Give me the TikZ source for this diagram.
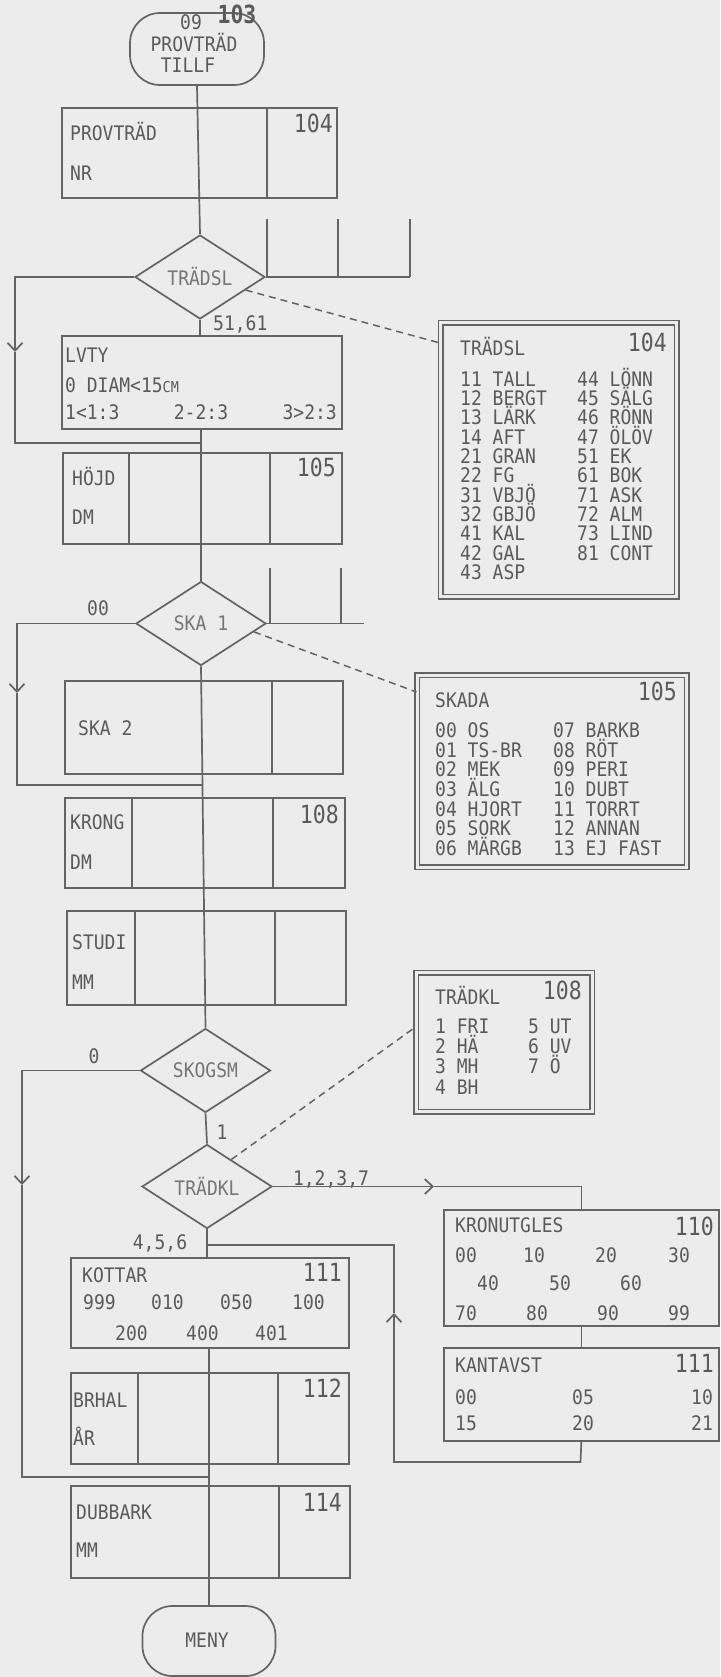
\documentclass[tikz,border=0pt]{standalone}
\usepackage{fontspec}
\usetikzlibrary{shapes.geometric,arrows.meta,calc}
\newfontfamily\monofam[FakeStretch=0.9]{DejaVu Sans Mono}
\newfontfamily\numfam[FakeStretch=0.86]{DejaVu Sans Mono}
\newcommand\txtfont{\monofam\fontsize{20pt}{20pt}\selectfont}
\newcommand\numfont{\numfam\fontsize{25pt}{25pt}\selectfont}
\definecolor{bg}{RGB}{236,236,236}
\definecolor{lc}{RGB}{100,100,100}
\definecolor{tc}{RGB}{90,90,90}
\definecolor{dc}{RGB}{118,118,118}
\tikzset{
  ln/.style={draw=lc, line width=1.7pt},
  box/.style={rectangle, draw=lc, line width=1.7pt, inner sep=0pt, anchor=north west},
  dia/.style={diamond, draw=lc, line width=1.7pt, minimum width=130pt, minimum height=84pt, inner sep=0pt, text=dc, font=\txtfont},
  term/.style={rectangle, rounded corners=30pt, draw=lc, line width=1.7pt, inner sep=0pt},
  lst/.style={rectangle, draw=lc, double=bg, double distance=3.2pt, line width=1.3pt, inner sep=0pt, anchor=north west},
  tl/.style={text=tc, font=\txtfont, inner sep=0pt, anchor=base west},
  tm/.style={text=tc, font=\txtfont, inner sep=0pt, anchor=base},
  tr/.style={text=tc, font=\txtfont, inner sep=0pt, anchor=base east},
  nb/.style={text=tc, font=\numfont, inner sep=0pt, anchor=base east},
  dsh/.style={draw=lc, line width=1.5pt, dash pattern=on 7pt off 5pt},
  arw/.style={-{Straight Barb[length=8pt,width=15pt]}},
}
\begin{document}
\begin{tikzpicture}[x=1pt,y=-1pt]
\fill[bg] (0,0) rectangle (720,1677);
\useasboundingbox (0,0) rectangle (720,1677);

% ---------- start terminal
\node[term, minimum width=134pt, minimum height=72pt] (t0) at (197,49) {};
\node[tm] (t0a) at (191,30) {09};
\node[tm] (t0b) at (194,52) {PROVTRÄD};
\node[tm] (t0c) at (188,73) {TILLF};
\node[text=tc, font=\numfont\bfseries, inner sep=0pt, anchor=base] (n103) at (237,24) {103};

% ---------- PROVTRAD box
\node[box, minimum width=275pt, minimum height=90pt] (b1) at (61,107) {};
\draw[ln] (267,107) -- (267,197);
\node[tl] (b1a) at (70,140.5) {PROVTRÄD};
\node[tl] (b1b) at (70,181) {NR};
\node[nb] (b1n) at (333,133) {104};

% ---------- TRADSL decision
\node[dia] (d1) at (200,277) {TRÄDSL};
\coordinate (s1) at (410,277);
\draw[ln] (d1.east) -- (s1);
\draw[ln] (267,219) -- (267,277);
\draw[ln] (338,219) -- (338,277);
\draw[ln] (410,219) -- (s1);
\node[tl] (lab1) at (213,330.5) {51,61};

% ---------- LVTY box
\node[box, minimum width=280pt, minimum height=93pt] (b2) at (61,335) {};
\node[tl] (b2a) at (65,362.5) {LVTY};
\node[tl] (b2b) at (65,392.5) {0 DIAM<15{\fontsize{15pt}{15pt}\selectfont CM}};
\node[tl] (b2c) at (65,419.5) {1<1:3};
\node[tm] (b2d) at (201,419.5) {2-2:3};
\node[tr] (b2e) at (337,419.5) {3>2:3};

% ---------- HOJD box
\node[box, minimum width=279pt, minimum height=91pt] (b3) at (62,452) {};
\draw[ln] (129,452) -- (129,543);
\draw[ln] (270,452) -- (270,543);
\node[tl] (b3a) at (72,485.5) {HÖJD};
\node[tl] (b3b) at (72,524.5) {DM};
\node[nb] (b3n) at (336,476) {105};

% ---------- SKA 1 decision
\node[dia] (d2) at (201,623.5) {SKA 1};
\coordinate (s2) at (364,623.5);
\draw[ln] (d2.east) -- (s2);
\draw[ln] (270,568) -- (270,623.5);
\draw[ln] (341,568) -- (341,623.5);
\node[tm] (lab2) at (98,615.5) {00};

% ---------- SKA 2 box
\node[box, minimum width=278pt, minimum height=93pt] (b4) at (64,680) {};
\draw[ln] (272,680) -- (272,773);
\node[tl] (b4a) at (78,735.5) {SKA 2};

% ---------- KRONG box
\node[box, minimum width=280pt, minimum height=90pt] (b5) at (64,797) {};
\draw[ln] (132,797) -- (132,887);
\draw[ln] (273,797) -- (273,887);
\node[tl] (b5a) at (70,829.5) {KRONG};
\node[tl] (b5b) at (70,869.5) {DM};
\node[nb] (b5n) at (339,823) {108};

% ---------- STUDI box
\node[box, minimum width=279pt, minimum height=94pt] (b6) at (66,910) {};
\draw[ln] (135,910) -- (135,1004);
\draw[ln] (275,910) -- (275,1004);
\node[tl] (b6a) at (72,949.5) {STUDI};
\node[tl] (b6b) at (72,989.5) {MM};

% ---------- SKOGSM decision
\node[dia] (d3) at (205.5,1070.5) {SKOGSM};
\node[tm] (lab3) at (94,1063.5) {0};
\node[tm] (lab4) at (222,1139.5) {1};

% ---------- TRADKL decision
\node[dia] (d4) at (207,1186.5) {TRÄDKL};
\node[tm] (lab5) at (331,1185.5) {1,2,3,7};
\node[tm] (lab6) at (160,1249.5) {4,5,6};

% ---------- KOTTAR box
\node[box, minimum width=278pt, minimum height=90pt] (b7) at (70,1257) {};
\node[tl] (b7a) at (82,1282.5) {KOTTAR};
\node[nb] (b7n) at (342,1281) {111};
\node[tl] (b7b) at (83,1309.5) {999};
\node[tl] (b7c) at (151,1309.5) {010};
\node[tl] (b7d) at (220,1309.5) {050};
\node[tl] (b7e) at (292,1309.5) {100};
\node[tl] (b7f) at (115,1340.5) {200};
\node[tl] (b7g) at (186,1340.5) {400};
\node[tl] (b7h) at (255,1340.5) {401};

% ---------- BRHAL box
\node[box, minimum width=278pt, minimum height=91pt] (b8) at (70,1372) {};
\draw[ln] (138,1372) -- (138,1463);
\draw[ln] (278,1372) -- (278,1463);
\node[tl] (b8a) at (73,1407.5) {BRHAL};
\node[tl] (b8b) at (73,1445.5) {ÅR};
\node[nb] (b8n) at (342,1397) {112};

% ---------- DUBBARK box
\node[box, minimum width=279pt, minimum height=92pt] (b9) at (70,1485) {};
\draw[ln] (279,1485) -- (279,1577);
\node[tl] (b9a) at (76,1519.5) {DUBBARK};
\node[tl] (b9b) at (76,1557.5) {MM};
\node[nb] (b9n) at (342,1511) {114};

% ---------- MENY terminal
\node[term, minimum width=133pt, minimum height=70pt] (t1) at (209,1641) {};
\node[tm] (t1a) at (207,1647.5) {MENY};

% ---------- KRONUTGLES box
\node[box, minimum width=275pt, minimum height=116pt] (b10) at (443,1209) {};
\node[tl] (b10a) at (455,1232.5) {KRONUTGLES};
\node[nb] (b10n) at (714,1235) {110};
\node[tl] (k1) at (455,1262.5) {00};
\node[tl] (k2) at (523,1262.5) {10};
\node[tl] (k3) at (595,1262.5) {20};
\node[tl] (k4) at (668,1262.5) {30};
\node[tl] (k5) at (477,1290.5) {40};
\node[tl] (k6) at (549,1290.5) {50};
\node[tl] (k7) at (620,1290.5) {60};
\node[tl] (k8) at (455,1320.5) {70};
\node[tl] (k9) at (526,1320.5) {80};
\node[tl] (k10) at (597,1320.5) {90};
\node[tl] (k11) at (668,1320.5) {99};

% ---------- KANTAVST box
\node[box, minimum width=275pt, minimum height=93pt] (b11) at (443,1347) {};
\node[tl] (b11a) at (455,1372.5) {KANTAVST};
\node[nb] (b11n) at (714,1372) {111};
\node[tl] (m1) at (455,1404.5) {00};
\node[tl] (m2) at (572,1404.5) {05};
\node[tl] (m3) at (691,1404.5) {10};
\node[tl] (m4) at (455,1430.5) {15};
\node[tl] (m5) at (572,1430.5) {20};
\node[tl] (m6) at (691,1430.5) {21};

% ---------- code lists
\node[lst, minimum width=236pt, minimum height=274pt] (L1) at (440,322) {};
\node[tl] (L1t) at (460,355.5) {TRÄDSL};
\node[nb] (L1n) at (667,351) {104};
\foreach \s [count=\i from 0] in {11 TALL,12 BERGT,13 LÄRK,14 AFT,21 GRAN,22 FG,31 VBJÖ,32 GBJÖ,41 KAL,42 GAL,43 ASP}
  \node[tl] (La\i) at (460,386.3+19.3*\i) {\s};
\foreach \s [count=\i from 0] in {44 LÖNN,45 SÄLG,46 RÖNN,47 ÖLÖV,51 EK,61 BOK,71 ASK,72 ALM,73 LIND,81 CONT}
  \node[tl] (Lb\i) at (577,386.3+19.3*\i) {\s};

\node[lst, minimum width=269.5pt, minimum height=192pt] (L2) at (416.5,674.5) {};
\node[tl] (L2t) at (435,707.5) {SKADA};
\node[nb] (L2n) at (677,700) {105};
\foreach \s [count=\i from 0] in {00 OS,01 TS-BR,02 MEK,03 ÄLG,04 HJORT,05 SORK,06 MÄRGB}
  \node[tl] (Lc\i) at (435,737.3+19.7*\i) {\s};
\foreach \s [count=\i from 0] in {07 BARKB,08 RÖT,09 PERI,10 DUBT,11 TORRT,12 ANNAN,13 EJ FAST}
  \node[tl] (Ld\i) at (553,737.3+19.7*\i) {\s};

\node[lst, minimum width=176pt, minimum height=139pt] (L3) at (415.5,972) {};
\node[tl] (L3t) at (435,1004.5) {TRÄDKL};
\node[nb] (L3n) at (582,999) {108};
\foreach \s [count=\i from 0] in {1 FRI,2 HÄ,3 MH,4 BH}
  \node[tl] (Le\i) at (435,1033.3+20.3*\i) {\s};
\foreach \s [count=\i from 0] in {5 UT,6 UV,7 Ö}
  \node[tl] (Lf\i) at (528,1033.3+20.3*\i) {\s};

% ---------- main flow
\draw[ln] (t0.south) -- (d1.north);
\draw[ln] (d1.south) -- (d1.south |- b2.north);
\draw[ln] (b2.south -| d2.north) -- (d2.north);
\draw[ln] (d2.south) -- (d3.north);
\draw[ln] (d3.south) -- (d4.north);
\draw[ln] (d4.south) -- (d4.south |- b7.north);
\draw[ln] (b7.south -| t1.north) -- (t1.north);

% ---------- loops on the left
\coordinate (l1a) at (15,277);
\coordinate (l1b) at (15,352);
\coordinate (l1c) at (15,443);
\coordinate (l1d) at (201,443);
\draw[ln,arw] (d1.west) -- (l1a) -- (l1b);
\draw[ln] (l1b) -- (l1c) -- (l1d);

\coordinate (l2a) at (17,623.5);
\coordinate (l2b) at (17,693);
\coordinate (l2c) at (17,785);
\coordinate (l2d) at (202,785);
\draw[ln,arw] (d2.west) -- (l2a) -- (l2b);
\draw[ln] (l2b) -- (l2c) -- (l2d);

\coordinate (l3a) at (22,1070.5);
\coordinate (l3b) at (22,1185);
\coordinate (l3c) at (22,1477);
\coordinate (l3d) at (209,1477);
\draw[ln,arw] (d3.west) -- (l3a) -- (l3b);
\draw[ln] (l3b) -- (l3c) -- (l3d);

% ---------- right branch
\coordinate (a1) at (434,1186.5);
\draw[ln,arw] (d4.east) -- (a1);
\draw[ln] (a1) -| (b10.north);
\draw[ln] (b10.south) -- (b11.north);
\coordinate (r1) at (580.5,1462);
\coordinate (r2) at (394,1462);
\coordinate (r3) at (394,1313);
\coordinate (r4) at (394,1245);
\coordinate (r5) at (208,1245);
\draw[ln,arw] (b11.south) -- (r1) -- (r2) -- (r3);
\draw[ln] (r3) -- (r4) -- (r5);

% ---------- dashed references
\draw[dsh] (d1.-16) -- ([yshift=-21pt]L1.north west);
\draw[dsh] (d2.-9) -- ([yshift=-17.5pt]L2.north west);
\draw[dsh] (d4.48) -- ([yshift=-55pt]L3.north west);
\end{tikzpicture}
\end{document}
